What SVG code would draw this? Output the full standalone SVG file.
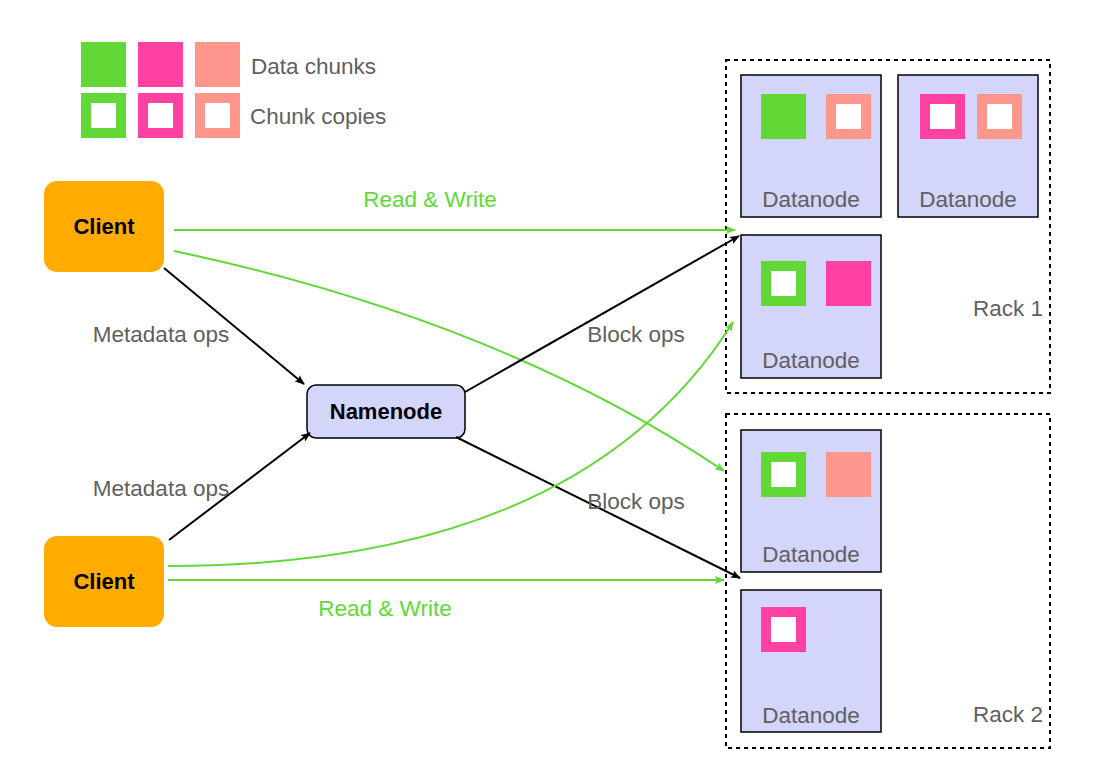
<svg xmlns="http://www.w3.org/2000/svg" width="1094" height="784" viewBox="0 0 1094 784">
<style>
text{font-family:"Helvetica","Liberation Sans",Arial,sans-serif;font-size:22.5px;fill:#5f5f5f}
.lbl{text-anchor:middle}
.g{fill:#61D836}.p{fill:#FF42A1}.s{fill:#FF968C}
.w{fill:#fff}
.dn{fill:#D3D5FB;stroke:#000;stroke-width:1.5}
.rack{fill:none;stroke:#000;stroke-width:2;stroke-dasharray:4,4}
.cl{fill:#FFAB00}
.gl{stroke:#61D836;stroke-width:2;fill:none}
.bl{stroke:#000;stroke-width:2;fill:none}
.bold{font-weight:bold;fill:#000;text-anchor:middle;font-size:22px}
</style>
<defs>
<marker id="ag" markerWidth="10" markerHeight="8" refX="9" refY="4" orient="auto" markerUnits="userSpaceOnUse"><path d="M0,0L10,4L0,8L2,4z" fill="#61D836"/></marker>
<marker id="ab" markerWidth="10" markerHeight="8" refX="9" refY="4" orient="auto" markerUnits="userSpaceOnUse"><path d="M0,0L10,4L0,8L2,4z" fill="#000"/></marker>
</defs>
<g id="legend">
<rect class="g" x="81" y="42" width="45" height="45"/><rect class="p" x="138" y="42" width="45" height="45"/><rect class="s" x="195" y="42" width="45" height="45"/>
<rect class="g" x="81" y="93" width="45" height="45"/><rect class="w" x="91" y="103" width="25" height="25"/>
<rect class="p" x="138" y="93" width="45" height="45"/><rect class="w" x="148" y="103" width="25" height="25"/>
<rect class="s" x="195" y="93" width="45" height="45"/><rect class="w" x="205" y="103" width="25" height="25"/>
<text x="251" y="74">Data chunks</text><text x="250" y="124">Chunk copies</text>
</g>
<g id="rack1"><rect class="rack" x="726" y="60" width="324" height="333"/><text class="lbl" x="1008" y="316">Rack 1</text></g>
<g id="rack2"><rect class="rack" x="726" y="414" width="324" height="334"/><text class="lbl" x="1008" y="722">Rack 2</text></g>
<g id="dn1"><rect class="dn" x="741" y="75" width="140" height="142"/>
<rect class="g" x="761" y="94" width="45" height="45"/>
<rect class="s" x="826" y="94" width="45" height="45"/><rect class="w" x="836" y="104" width="25" height="25"/>
<text class="lbl" x="811" y="207">Datanode</text></g>
<g id="dn2"><rect class="dn" x="898" y="75" width="140" height="142"/>
<rect class="p" x="920" y="94" width="45" height="45"/><rect class="w" x="930" y="104" width="25" height="25"/>
<rect class="s" x="977" y="94" width="45" height="45"/><rect class="w" x="987" y="104" width="25" height="25"/>
<text class="lbl" x="968" y="207">Datanode</text></g>
<g id="dn3"><rect class="dn" x="741" y="235" width="140" height="143"/>
<rect class="g" x="761" y="261" width="45" height="45"/><rect class="w" x="771" y="271" width="25" height="25"/>
<rect class="p" x="826" y="261" width="45" height="45"/>
<text class="lbl" x="811" y="368">Datanode</text></g>
<g id="dn4"><rect class="dn" x="741" y="430" width="140" height="142"/>
<rect class="g" x="761" y="452" width="45" height="45"/><rect class="w" x="771" y="462" width="25" height="25"/>
<rect class="s" x="826" y="452" width="45" height="45"/>
<text class="lbl" x="811" y="562">Datanode</text></g>
<g id="dn5"><rect class="dn" x="741" y="590" width="140" height="142"/>
<rect class="p" x="761" y="607" width="45" height="45"/><rect class="w" x="771" y="617" width="25" height="25"/>
<text class="lbl" x="811" y="723">Datanode</text></g>
<g id="client1"><rect class="cl" x="44" y="181" width="120" height="91" rx="13"/><text class="bold" x="104" y="234">Client</text></g>
<g id="client2"><rect class="cl" x="44" y="536" width="120" height="91" rx="13"/><text class="bold" x="104" y="589">Client</text></g>
<g id="namenode"><rect x="307" y="385" width="158" height="53" rx="9" fill="#D3D5FB" stroke="#000" stroke-width="1.5"/><text class="bold" x="386" y="419">Namenode</text></g>
<g id="connectors">
<path class="gl" d="M174,230H735" marker-end="url(#ag)"/>
<path class="gl" d="M174,251Q500,320 724,471" marker-end="url(#ag)"/>
<path class="bl" d="M164,268L304,384" marker-end="url(#ab)"/>
<path class="bl" d="M169,540L310,433" marker-end="url(#ab)"/>
<path class="bl" d="M465,392L739,236" marker-end="url(#ab)"/>
<path class="bl" d="M456,437L740,578" marker-end="url(#ab)"/>
<path class="gl" d="M168,566Q580,566 733,322" marker-end="url(#ag)"/>
<path class="gl" d="M168,580H724" marker-end="url(#ag)"/>
<text class="lbl" x="430" y="207" style="fill:#61D836">Read &amp; Write</text>
<text class="lbl" x="385" y="616" style="fill:#61D836">Read &amp; Write</text>
<text class="lbl" x="161" y="342">Metadata ops</text>
<text class="lbl" x="161" y="496">Metadata ops</text>
<text class="lbl" x="636" y="342">Block ops</text>
<text class="lbl" x="636" y="509">Block ops</text>
</g>
</svg>
